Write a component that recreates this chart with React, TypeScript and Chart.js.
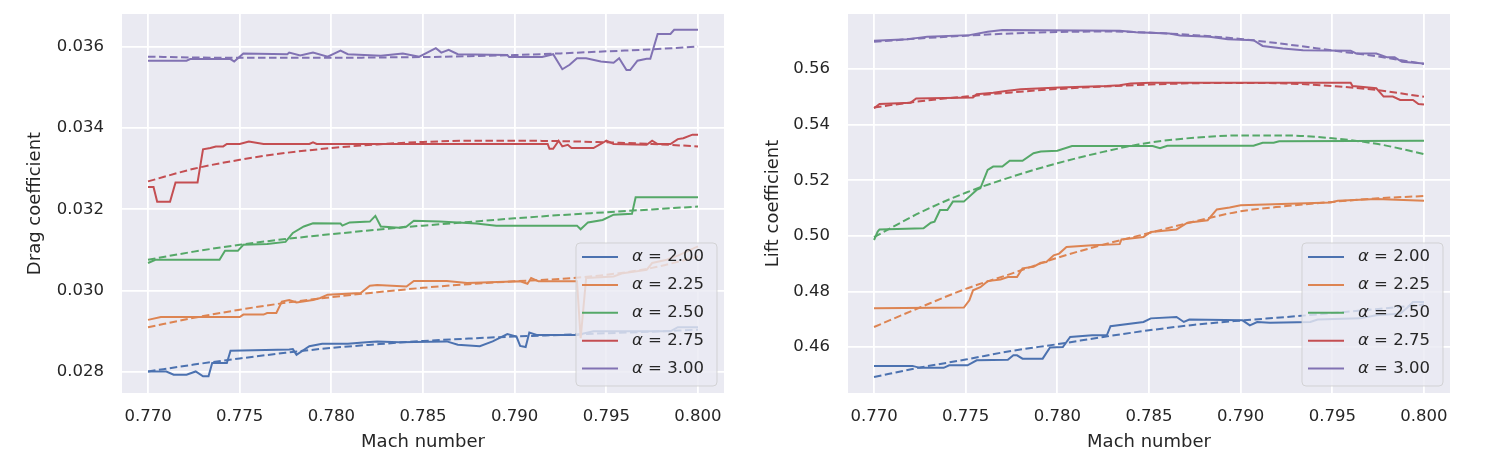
import { useEffect, useRef } from "react";
import Chart from "chart.js/auto";

// axis ticks
const machTicks = [0.77, 0.775, 0.78, 0.785, 0.79, 0.795, 0.8];
const dragTicks = [0.028, 0.03, 0.032, 0.034, 0.036];
const liftTicks = [0.46, 0.48, 0.5, 0.52, 0.54, 0.56];

const alphaLabels = ["2.00", "2.25", "2.50", "2.75", "3.00"];
const seriesColors = ["#4C72B0", "#DD8452", "#55A868", "#C44E52", "#8172B3"];

// mach positions of the fitted (dashed) curves
const fitMach = [0.77, 0.7725, 0.775, 0.7775, 0.78, 0.7825, 0.785, 0.7875, 0.79, 0.7925, 0.795, 0.7975, 0.8];

// ---- drag coefficient, simulated [mach, Cd]
const dragA200 = [
  [0.77, 0.02801], [0.771, 0.02801], [0.7714, 0.02793], [0.7721, 0.02793], [0.7726, 0.02801], [0.773, 0.02789],
  [0.7733, 0.02789], [0.7735, 0.02822], [0.7743, 0.02822], [0.7745, 0.02852], [0.7777, 0.02855], [0.7779, 0.02856],
  [0.7781, 0.02842], [0.7788, 0.02863], [0.7795, 0.02869], [0.7809, 0.02869], [0.7819, 0.02873], [0.7825, 0.02875],
  [0.7837, 0.02873], [0.7863, 0.02875], [0.7869, 0.02867], [0.7881, 0.02863], [0.7888, 0.02875], [0.7896, 0.02893],
  [0.7901, 0.02887], [0.7903, 0.02864], [0.7906, 0.02861], [0.7908, 0.02897], [0.7912, 0.02891], [0.7934, 0.02891],
  [0.7943, 0.029], [0.7985, 0.029], [0.7989, 0.0291], [0.8, 0.0291],
];
const dragA225 = [
  [0.77, 0.02928], [0.7707, 0.02935], [0.775, 0.02935], [0.7752, 0.02941], [0.7763, 0.02941], [0.7765, 0.02945],
  [0.777, 0.02945], [0.7773, 0.02973], [0.7777, 0.02977], [0.7781, 0.02971], [0.779, 0.02977], [0.7794, 0.02982],
  [0.7798, 0.0299], [0.7816, 0.02994], [0.7821, 0.03012], [0.7825, 0.03014], [0.7841, 0.0301], [0.7845, 0.03024],
  [0.7863, 0.03024], [0.7874, 0.03019], [0.7903, 0.03023], [0.7907, 0.03017], [0.7909, 0.03031], [0.7913, 0.03023],
  [0.7934, 0.03023], [0.7936, 0.02883], [0.7939, 0.03031], [0.7954, 0.03035], [0.7959, 0.03043], [0.7972, 0.03051],
  [0.7975, 0.03068], [0.7983, 0.03076], [0.799, 0.03088], [0.8, 0.03109],
];
const dragA250 = [
  [0.77, 0.03068], [0.7704, 0.03076], [0.7739, 0.03076], [0.7742, 0.03098], [0.7749, 0.03098], [0.7752, 0.03113],
  [0.7765, 0.03115], [0.7775, 0.0312], [0.7779, 0.03142], [0.7785, 0.03158], [0.779, 0.03166], [0.7805, 0.03165],
  [0.7806, 0.0316], [0.781, 0.03168], [0.7821, 0.0317], [0.7824, 0.03184], [0.7827, 0.03158], [0.7837, 0.03155],
  [0.7841, 0.03158], [0.7845, 0.03172], [0.7859, 0.0317], [0.7879, 0.03165], [0.789, 0.0316], [0.7934, 0.0316],
  [0.7936, 0.03151], [0.794, 0.03168], [0.7948, 0.03174], [0.7954, 0.03187], [0.7964, 0.03189], [0.7966, 0.0323],
  [0.8, 0.0323],
];
const dragA275 = [
  [0.77, 0.03255], [0.7703, 0.03255], [0.7705, 0.03219], [0.7712, 0.03219], [0.7715, 0.03266], [0.7727, 0.03266],
  [0.773, 0.03348], [0.7734, 0.03351], [0.7737, 0.03355], [0.7741, 0.03355], [0.7743, 0.03361], [0.775, 0.03361],
  [0.7755, 0.03367], [0.7763, 0.03361], [0.7788, 0.03361], [0.779, 0.03365], [0.7792, 0.03361], [0.7918, 0.03361],
  [0.7919, 0.03349], [0.7921, 0.03349], [0.7924, 0.03369], [0.7926, 0.03355], [0.7929, 0.03359], [0.7931, 0.03351],
  [0.7943, 0.03351], [0.7947, 0.03361], [0.795, 0.03369], [0.7954, 0.03361], [0.7972, 0.03359], [0.7975, 0.03369],
  [0.7978, 0.03361], [0.7985, 0.03361], [0.7989, 0.03373], [0.7992, 0.03375], [0.7997, 0.03384], [0.8, 0.03384],
];
const dragA300 = [
  [0.77, 0.03566], [0.7721, 0.03566], [0.7723, 0.0357], [0.7745, 0.0357], [0.7747, 0.03564], [0.7752, 0.03584],
  [0.7776, 0.03582], [0.7777, 0.03586], [0.7783, 0.03579], [0.779, 0.03586], [0.7798, 0.03576], [0.7805, 0.03591],
  [0.7809, 0.03582], [0.7827, 0.03578], [0.7839, 0.03584], [0.7848, 0.03576], [0.7857, 0.03597], [0.786, 0.03586],
  [0.7864, 0.03593], [0.7869, 0.03582], [0.7896, 0.0358], [0.7897, 0.03575], [0.7915, 0.03575], [0.7921, 0.03582],
  [0.7926, 0.03545], [0.793, 0.03556], [0.7934, 0.03572], [0.7939, 0.03572], [0.7947, 0.03564], [0.7954, 0.03561],
  [0.7957, 0.03572], [0.7961, 0.03543], [0.7963, 0.03543], [0.7967, 0.03566], [0.7972, 0.03571], [0.7974, 0.03571],
  [0.7978, 0.03632], [0.7985, 0.03632], [0.7987, 0.03642], [0.8, 0.03642],
];

// drag coefficient, fitted
const dragFit200 = [0.02801, 0.02818, 0.02833, 0.02847, 0.02859, 0.02868, 0.02876, 0.02882, 0.02887, 0.02891, 0.02895, 0.02899, 0.02904];
const dragFit225 = [0.0291, 0.02933, 0.02953, 0.0297, 0.02984, 0.02996, 0.03007, 0.03016, 0.03023, 0.03029, 0.03039, 0.03056, 0.03084];
const dragFit250 = [0.03076, 0.03096, 0.03113, 0.03127, 0.03139, 0.0315, 0.0316, 0.03169, 0.03178, 0.03186, 0.03193, 0.032, 0.03207];
const dragFit275 = [0.03269, 0.033, 0.03322, 0.03339, 0.03351, 0.0336, 0.03366, 0.03369, 0.03369, 0.03368, 0.03365, 0.03361, 0.03355];
const dragFit300 = [0.03576, 0.03574, 0.03573, 0.03573, 0.03573, 0.03574, 0.03575, 0.03577, 0.0358, 0.03584, 0.03589, 0.03594, 0.03601];

// ---- lift coefficient, simulated [mach, Cl]
const liftA200 = [
  [0.77, 0.4532], [0.7721, 0.4532], [0.7725, 0.4525], [0.7738, 0.4525], [0.7741, 0.4534], [0.7751, 0.4534],
  [0.7756, 0.4552], [0.7773, 0.4554], [0.7776, 0.457], [0.7778, 0.457], [0.7781, 0.4558], [0.7792, 0.4558],
  [0.7796, 0.4598], [0.7803, 0.46], [0.7807, 0.4636], [0.7819, 0.4642], [0.7827, 0.4642], [0.7829, 0.4675],
  [0.7847, 0.469], [0.7851, 0.4703], [0.7865, 0.4708], [0.7869, 0.469], [0.7872, 0.4699], [0.7901, 0.4696],
  [0.7905, 0.4678], [0.7909, 0.469], [0.7916, 0.4687], [0.7938, 0.469], [0.7942, 0.4699], [0.7965, 0.4703],
  [0.7974, 0.4714], [0.7987, 0.472], [0.7991, 0.4742], [0.7994, 0.4762], [0.8, 0.4762],
];
const liftA225 = [
  [0.77, 0.4739], [0.7749, 0.4742], [0.7752, 0.4768], [0.7754, 0.4804], [0.7758, 0.4815], [0.7762, 0.4837],
  [0.7769, 0.4843], [0.7773, 0.4852], [0.7778, 0.4852], [0.7781, 0.4883], [0.7787, 0.4889], [0.7791, 0.4903],
  [0.7794, 0.4906], [0.7798, 0.493], [0.7801, 0.4936], [0.7805, 0.496], [0.7819, 0.4966], [0.7834, 0.497],
  [0.7835, 0.4987], [0.7847, 0.4996], [0.7851, 0.5014], [0.7865, 0.5023], [0.7871, 0.5047], [0.7882, 0.5056],
  [0.7887, 0.5095], [0.7894, 0.5102], [0.79, 0.511], [0.7949, 0.512], [0.7953, 0.5126], [0.7974, 0.5132],
  [0.8, 0.5126],
];
const liftA250 = [
  [0.77, 0.4985], [0.7702, 0.5015], [0.7703, 0.5023], [0.7727, 0.5027], [0.7731, 0.5047], [0.7733, 0.5051],
  [0.7736, 0.5093], [0.774, 0.5093], [0.7743, 0.5123], [0.7749, 0.5123], [0.7752, 0.5141], [0.7756, 0.5165],
  [0.7758, 0.5171], [0.7762, 0.5237], [0.7765, 0.5249], [0.777, 0.5249], [0.7774, 0.527], [0.7781, 0.527],
  [0.7787, 0.5297], [0.7791, 0.5303], [0.78, 0.5306], [0.7808, 0.5323], [0.7852, 0.5323], [0.7856, 0.5315],
  [0.786, 0.5324], [0.7907, 0.5324], [0.7912, 0.5335], [0.7918, 0.5335], [0.7921, 0.534], [0.8, 0.5342],
];
const liftA275 = [
  [0.77, 0.5459], [0.7703, 0.5474], [0.772, 0.5479], [0.7723, 0.5494], [0.7754, 0.5498], [0.7756, 0.5509],
  [0.7765, 0.5515], [0.7773, 0.5522], [0.778, 0.5527], [0.7801, 0.5534], [0.7827, 0.5539], [0.7834, 0.5542],
  [0.784, 0.5548], [0.7851, 0.5551], [0.796, 0.5551], [0.7961, 0.5539], [0.7974, 0.5531], [0.7978, 0.5501],
  [0.7983, 0.5501], [0.7987, 0.5489], [0.7994, 0.5489], [0.7997, 0.5474], [0.8, 0.5472],
];
const liftA300 = [
  [0.77, 0.5702], [0.7718, 0.5707], [0.7725, 0.5713], [0.7729, 0.5716], [0.7752, 0.5722], [0.7762, 0.5734],
  [0.777, 0.574], [0.7834, 0.5738], [0.7843, 0.5732], [0.7861, 0.5728], [0.7867, 0.5721], [0.7883, 0.5716],
  [0.7893, 0.5707], [0.7907, 0.5704], [0.7912, 0.5683], [0.7923, 0.5674], [0.7934, 0.5668], [0.796, 0.5666],
  [0.7963, 0.5656], [0.7974, 0.5656], [0.798, 0.5642], [0.7984, 0.5642], [0.7988, 0.5626], [0.8, 0.562],
];

// lift coefficient, fitted
const liftFit200 = [0.4492, 0.4526, 0.4555, 0.4586, 0.461, 0.4636, 0.466, 0.468, 0.4695, 0.4708, 0.4722, 0.4737, 0.4753];
const liftFit225 = [0.4672, 0.4742, 0.4809, 0.4864, 0.4921, 0.4968, 0.501, 0.5052, 0.5088, 0.5107, 0.5122, 0.5135, 0.5143];
const liftFit250 = [0.4995, 0.5083, 0.5155, 0.5212, 0.5261, 0.5302, 0.5335, 0.5353, 0.5361, 0.5361, 0.5351, 0.533, 0.5294];
const liftFit275 = [0.5462, 0.5484, 0.5501, 0.5516, 0.5528, 0.5537, 0.5544, 0.5549, 0.555, 0.5548, 0.5539, 0.5524, 0.55];
const liftFit300 = [0.5698, 0.571, 0.572, 0.5728, 0.5733, 0.5735, 0.5731, 0.5722, 0.5708, 0.5689, 0.5667, 0.5645, 0.5618];

const dragSolid = [dragA200, dragA225, dragA250, dragA275, dragA300];
const dragFits = [dragFit200, dragFit225, dragFit250, dragFit275, dragFit300];
const liftSolid = [liftA200, liftA225, liftA250, liftA275, liftA300];
const liftFits = [liftFit200, liftFit225, liftFit250, liftFit275, liftFit300];

const FONT = "'DejaVu Sans', sans-serif";
const TEXT = "#262626";

const panelBg = {
  id: "panelBg",
  beforeDraw(chart: any) {
    const { ctx, chartArea: a } = chart;
    ctx.save();
    ctx.fillStyle = "#EAEAF2";
    ctx.fillRect(a.left, a.top, a.right - a.left, a.bottom - a.top);
    ctx.restore();
  },
};

// matplotlib-like legend box in the lower right, semi transparent
const boxLegend = {
  id: "boxLegend",
  afterDatasetsDraw(chart: any) {
    const { ctx, chartArea: a } = chart;
    const w = 141;
    const h = 143;
    const x0 = a.right - 7 - w;
    const y0 = a.bottom - 7 - h;
    const r = 4;
    ctx.save();
    ctx.beginPath();
    ctx.moveTo(x0 + r, y0);
    ctx.arcTo(x0 + w, y0, x0 + w, y0 + h, r);
    ctx.arcTo(x0 + w, y0 + h, x0, y0 + h, r);
    ctx.arcTo(x0, y0 + h, x0, y0, r);
    ctx.arcTo(x0, y0, x0 + w, y0, r);
    ctx.closePath();
    ctx.fillStyle = "rgba(234,234,242,0.8)";
    ctx.fill();
    ctx.strokeStyle = "rgba(204,204,204,0.8)";
    ctx.lineWidth = 1;
    ctx.stroke();
    ctx.textBaseline = "middle";
    ctx.fillStyle = TEXT;
    alphaLabels.forEach((lab, i) => {
      const y = y0 + 14 + i * 27.9;
      ctx.strokeStyle = seriesColors[i];
      ctx.lineWidth = 2;
      ctx.beginPath();
      ctx.moveTo(x0 + 6, y);
      ctx.lineTo(x0 + 42, y);
      ctx.stroke();
      ctx.font = `italic 16.5px ${FONT}`;
      ctx.fillText("α", x0 + 56, y);
      const aw = ctx.measureText("α").width;
      ctx.font = `16.5px ${FONT}`;
      ctx.fillText(" = " + lab, x0 + 56 + aw, y);
    });
    ctx.restore();
  },
};

type PanelProps = {
  solid: number[][][];
  fits: number[][];
  yTicks: number[];
  yMin: number;
  yMax: number;
  decimals: number;
  yTitle: string;
  width: number;
  axisWidth: number;
  rightPad: number;
  titlePad: number;
};

const Panel = ({ solid, fits, yTicks, yMin, yMax, decimals, yTitle, width, axisWidth, rightPad, titlePad }: PanelProps) => {
  const canvasRef = useRef<HTMLCanvasElement | null>(null);
  const chartRef = useRef<Chart | null>(null);

  useEffect(() => {
    if (!canvasRef.current) return;
    if (chartRef.current) chartRef.current.destroy();

    const datasets: any[] = [];
    solid.forEach((pts, i) => {
      datasets.push({
        label: "α = " + alphaLabels[i],
        data: pts.map(([x, y]) => ({ x, y })),
        borderColor: seriesColors[i],
        borderWidth: 2,
        pointRadius: 0,
        tension: 0,
        order: 100 - 2 * i,
      });
      datasets.push({
        label: "fit " + alphaLabels[i],
        data: fitMach.map((x, k) => ({ x, y: fits[i][k] })),
        borderColor: seriesColors[i],
        borderWidth: 2,
        borderDash: [7.5, 3.5],
        pointRadius: 0,
        cubicInterpolationMode: "monotone",
        order: 99 - 2 * i,
      });
    });

    // the axes must not reserve extra room for their end labels
    const noPadding = (s: any) => {
      s.paddingTop = 0;
      s.paddingBottom = 0;
      s.paddingLeft = 0;
      s.paddingRight = 0;
    };

    chartRef.current = new Chart(canvasRef.current, {
      type: "line",
      data: { datasets },
      options: {
        animation: false,
        responsive: false,
        maintainAspectRatio: false,
        layout: { padding: { top: 14, right: rightPad, left: 0, bottom: 0 } },
        plugins: { legend: { display: false }, tooltip: { enabled: false } },
        scales: {
          x: {
            type: "linear",
            min: 0.76858,
            max: 0.80142,
            afterBuildTicks: (s: any) => {
              s.ticks = machTicks.map((value) => ({ value }));
            },
            afterFit: (s: any) => {
              s.height = 67;
              noPadding(s);
            },
            border: { display: false },
            grid: { color: "#ffffff", lineWidth: 1.8, drawTicks: false },
            ticks: {
              padding: 14,
              color: TEXT,
              font: { size: 16.5, family: FONT },
              maxRotation: 0,
              callback: (v: any) => Number(v).toFixed(3),
            },
            title: {
              display: true,
              text: "Mach number",
              color: TEXT,
              font: { size: 18, family: FONT },
              padding: { top: 0, bottom: 6.6 },
            },
          },
          y: {
            type: "linear",
            min: yMin,
            max: yMax,
            afterBuildTicks: (s: any) => {
              s.ticks = yTicks.map((value) => ({ value }));
            },
            afterFit: (s: any) => {
              s.width = axisWidth;
              noPadding(s);
            },
            border: { display: false },
            grid: { color: "#ffffff", lineWidth: 1.8, drawTicks: false },
            ticks: {
              padding: 18,
              color: TEXT,
              font: { size: 16.5, family: FONT },
              callback: (v: any) => Number(v).toFixed(decimals),
            },
            title: {
              display: true,
              text: yTitle,
              color: TEXT,
              font: { size: 18, family: FONT },
              padding: { top: titlePad, bottom: 0 },
            },
          },
        },
      },
      plugins: [panelBg, boxLegend],
    });

    return () => {
      if (chartRef.current) {
        chartRef.current.destroy();
        chartRef.current = null;
      }
    };
  }, []);

  return <canvas ref={canvasRef} width={width} height={460} style={{ display: "block", width, height: 460 }} />;
};

export default function App() {
  return (
    <div style={{ position: "absolute", left: 0, top: 0, width: 1496, height: 460, background: "#fff", display: "flex" }}>
      <Panel
        solid={dragSolid}
        fits={dragFits}
        yTicks={dragTicks}
        yMin={0.02748}
        yMax={0.03681}
        decimals={3}
        yTitle="Drag coefficient"
        width={740}
        axisWidth={122}
        rightPad={16}
        titlePad={25}
      />
      <Panel
        solid={liftSolid}
        fits={liftFits}
        yTicks={liftTicks}
        yMin={0.44345}
        yMax={0.5798}
        decimals={2}
        yTitle="Lift coefficient"
        width={756}
        axisWidth={108}
        rightPad={46}
        titlePad={23}
      />
    </div>
  );
}
